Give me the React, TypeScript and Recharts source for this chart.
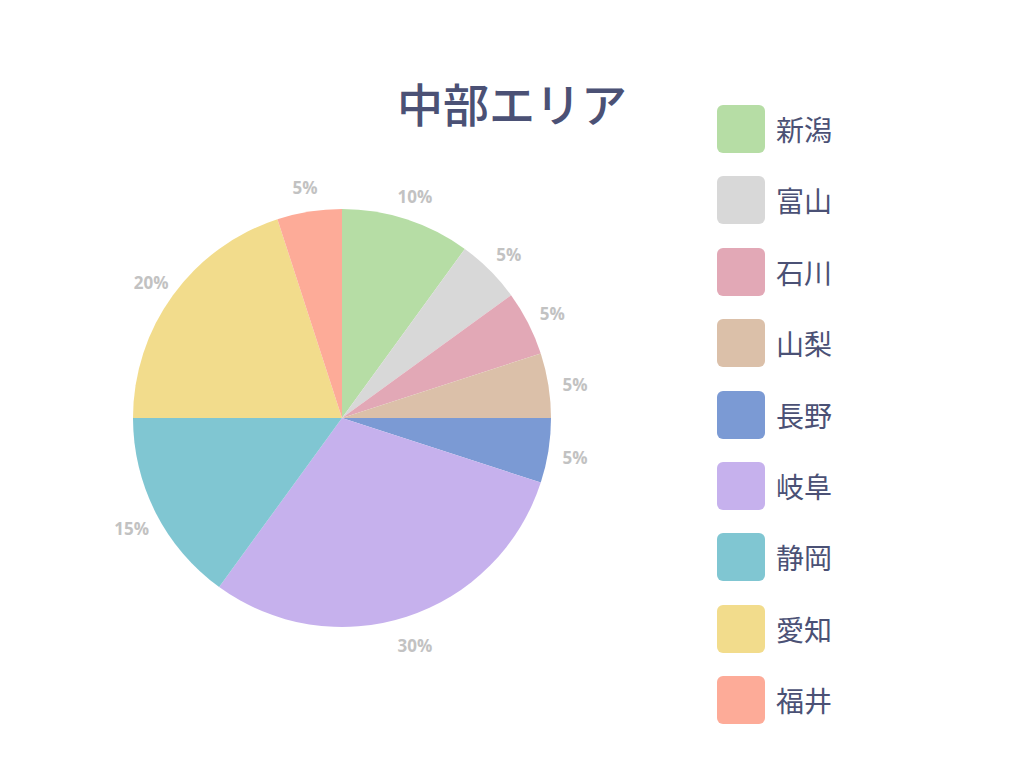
import { PieChart, Pie, Cell } from "recharts";

const prefectures = ["新潟", "富山", "石川", "山梨", "長野", "岐阜", "静岡", "愛知", "福井"];
const shares = [10, 5, 5, 5, 5, 30, 15, 20, 5];
const colors = ["#b6dda5", "#d8d8d8", "#e2a8b6", "#dbc0a9", "#7b9ad4", "#c6b1ed", "#80c6d2", "#f2dc8c", "#fdab98"];

const data = prefectures.map((name, i) => ({ name, value: shares[i] }));

const RADIAN = Math.PI / 180;

const renderLabel = ({ cx, cy, midAngle, value }: any) => {
  const r = 236;
  const x = cx + r * Math.cos(-midAngle * RADIAN);
  const y = cy + r * Math.sin(-midAngle * RADIAN);
  return (
    <text
      x={x}
      y={y + 3}
      fill="#c2c2c2"
      textAnchor="middle"
      dominantBaseline="central"
      style={{ fontFamily: "'Open Sans', sans-serif", fontSize: "17px", fontWeight: 700 }}
    >
      {value}%
    </text>
  );
};

export default function App() {
  return (
    <div style={{ position: "relative", width: 1024, height: 768, background: "#fff", margin: -8 }}>
      <div
        style={{
          position: "absolute",
          left: 0,
          width: 1024,
          top: 71,
          textAlign: "center",
          fontFamily: "'Noto Sans CJK JP', sans-serif",
          fontSize: 46,
          fontWeight: 500,
          color: "#4b5175",
          lineHeight: "62px",
        }}
      >
        中部エリア
      </div>
      <div style={{ position: "absolute", left: 0, top: 0 }}>
        <PieChart width={1024} height={768} margin={{ top: 0, right: 0, bottom: 0, left: 0 }}>
          <Pie
            data={data}
            dataKey="value"
            nameKey="name"
            cx={342}
            cy={418}
            outerRadius={209}
            startAngle={90}
            endAngle={-270}
            stroke="none"
            labelLine={false}
            label={renderLabel}
            isAnimationActive={false}
          >
            {data.map((d, i) => (
              <Cell key={d.name} fill={colors[i]} />
            ))}
          </Pie>
        </PieChart>
      </div>
      {prefectures.map((name, i) => (
        <div
          key={name}
          style={{
            position: "absolute",
            left: 717,
            top: 105 + i * 71.4,
            height: 48,
            display: "flex",
            alignItems: "center",
          }}
        >
          <div style={{ width: 48, height: 48, borderRadius: 6, background: colors[i] }} />
          <span
            style={{
              marginLeft: 11,
              fontFamily: "'Noto Sans CJK JP', sans-serif",
              fontSize: 28,
              color: "#4b5175",
            }}
          >
            {name}
          </span>
        </div>
      ))}
    </div>
  );
}
